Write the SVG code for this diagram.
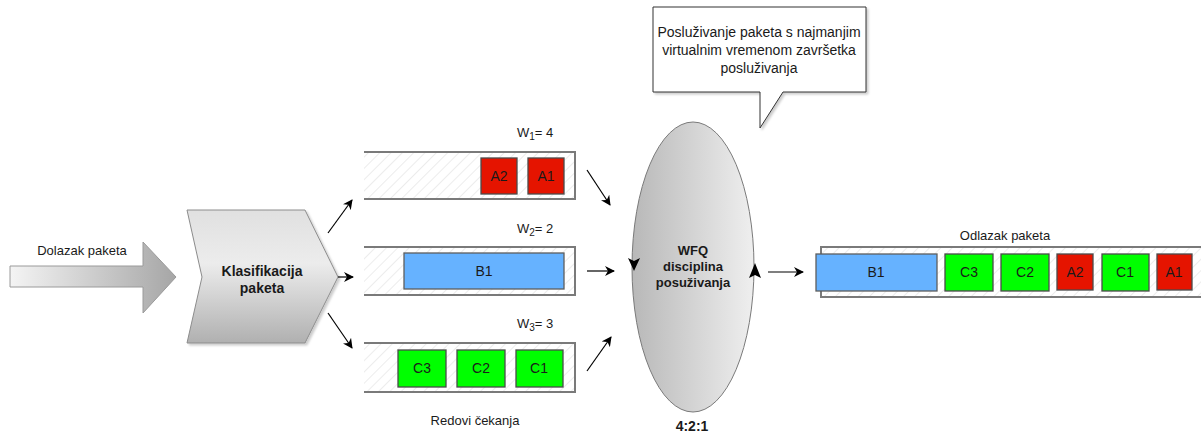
<svg xmlns="http://www.w3.org/2000/svg" width="1201" height="434" viewBox="0 0 1201 434">
<defs>
<linearGradient id="gArrow" x1="0" y1="0" x2="1" y2="0">
<stop offset="0" stop-color="#f4f4f4"/>
<stop offset="1" stop-color="#a6a6a6"/>
</linearGradient>
<linearGradient id="gClass" x1="0" y1="0" x2="0" y2="1">
<stop offset="0" stop-color="#e0e0e0"/>
<stop offset="0.4" stop-color="#ececec"/>
<stop offset="1" stop-color="#b0b0b0"/>
</linearGradient>
<linearGradient id="gEll" x1="0" y1="0" x2="1" y2="0">
<stop offset="0" stop-color="#b8b8b8"/>
<stop offset="1" stop-color="#efefef"/>
</linearGradient>
<pattern id="hatch" width="8" height="8" patternUnits="userSpaceOnUse" patternTransform="rotate(45)">
<rect width="8" height="8" fill="#ffffff"/>
<line x1="0" y1="0" x2="0" y2="8" stroke="#ececec" stroke-width="2"/>
</pattern>
<marker id="arr" viewBox="0 0 10 10" refX="9" refY="5" markerWidth="10" markerHeight="10" markerUnits="userSpaceOnUse" orient="auto">
<path d="M0,0 L10,5 L0,10 L3,5 z" fill="#000"/>
</marker>
<filter id="sh" x="-10%" y="-10%" width="130%" height="140%">
<feDropShadow dx="2" dy="2" stdDeviation="1" flood-color="#000" flood-opacity="0.2"/>
</filter>
</defs>
<style>
text{font-family:"Liberation Sans",Arial,sans-serif;fill:#1a1a1a;}
.lbl{font-size:13px;}
.box{font-size:14px;text-anchor:middle;}
.wfq{font-size:13px;text-anchor:middle;font-weight:bold;}
.bold{font-weight:bold;}
.q{fill:url(#hatch);stroke:none;}
.qb{fill:none;stroke:#7a7a7a;stroke-width:2;}
.red{fill:#e51400;stroke:#4a4a4a;stroke-width:1.3;}
.green{fill:#00ff00;stroke:#4a4a4a;stroke-width:1.3;}
.blue{fill:#66b2ff;stroke:#5e5e5e;stroke-width:1.3;}
.con{fill:none;stroke:#000;stroke-width:1.2;marker-end:url(#arr);}
</style>

<g id="dolazak">
<path d="M10,266 L143,266 L143,242 L176,277 L143,313 L143,287 L10,287 Z" fill="url(#gArrow)" stroke="#9a9a9a" stroke-width="1"/>
<text class="lbl" x="82" y="255" text-anchor="middle">Dolazak paketa</text>
</g>

<g id="klasifikacija">
<path d="M187,210 L305,210 L338,277 L305,343 L187,343 L202,277 Z" fill="url(#gClass)" stroke="#8c8c8c" stroke-width="1" filter="url(#sh)"/>
<text class="box bold" x="262" y="276" font-size="15">Klasifikacija</text>
<text class="box bold" x="262" y="293" font-size="15">paketa</text>
</g>

<g id="red1">
<rect class="q" x="364" y="152" width="211" height="47"/>
<path class="qb" d="M364,152 L575,152 L575,199 L364,199"/>
<rect class="red" x="481" y="158" width="36" height="36"/>
<text class="box" x="499" y="181">A2</text>
<rect class="red" x="528" y="158" width="36" height="36"/>
<text class="box" x="546" y="181">A1</text>
<text class="lbl" x="517" y="137">W<tspan font-size="10" dy="3">1</tspan><tspan dy="-3">= 4</tspan></text>
</g>

<g id="red2">
<rect class="q" x="364" y="247" width="211" height="48"/>
<path class="qb" d="M364,247 L575,247 L575,295 L364,295"/>
<rect class="blue" x="404" y="253" width="160" height="36"/>
<text class="box" x="484" y="276">B1</text>
<text class="lbl" x="517" y="233">W<tspan font-size="10" dy="3">2</tspan><tspan dy="-3">= 2</tspan></text>
</g>

<g id="red3">
<rect class="q" x="364" y="343" width="211" height="49"/>
<path class="qb" d="M364,343 L575,343 L575,392 L364,392"/>
<rect class="green" x="398" y="350" width="48" height="37"/>
<text class="box" x="422" y="373">C3</text>
<rect class="green" x="457" y="350" width="48" height="37"/>
<text class="box" x="481" y="373">C2</text>
<rect class="green" x="516" y="350" width="47" height="37"/>
<text class="box" x="539" y="373">C1</text>
<text class="lbl" x="517" y="328">W<tspan font-size="10" dy="3">3</tspan><tspan dy="-3">= 3</tspan></text>
</g>

<g id="redovi-label">
<text class="lbl" x="475" y="425" text-anchor="middle" font-size="13.5">Redovi čekanja</text>
</g>

<g id="wfq">
<ellipse cx="693" cy="267" rx="61" ry="145" fill="url(#gEll)" stroke="#7a7a7a" stroke-width="1"/>
<path d="M628,258 L634,271 L640,258 L634,261 Z" fill="#000"/>
<path d="M749,278 L755,263 L761,278 L755,275 Z" fill="#000"/>
<text class="wfq" x="693" y="255">WFQ</text>
<text class="wfq" x="693" y="271">disciplina</text>
<text class="wfq" x="693" y="287">posuživanja</text>
<text class="box bold" x="692" y="431">4:2:1</text>
</g>

<g id="oblacic">
<path d="M653,7 L866,7 L866,92 L783,92 L760,128 L760,92 L653,92 Z" fill="#ffffff" stroke="#333333" stroke-width="1" filter="url(#sh)"/>
<text class="box" x="759" y="37">Posluživanje paketa s najmanjim</text>
<text class="box" x="759" y="55">virtualnim vremenom završetka</text>
<text class="box" x="759" y="73">posluživanja</text>
</g>

<g id="odlazak">
<rect class="q" x="821" y="247" width="380" height="50"/>
<path class="qb" d="M1201,247 L821,247 L821,297 L1201,297"/>
<rect class="blue" x="816" y="254" width="121" height="37"/>
<text class="box" x="876" y="277">B1</text>
<rect class="green" x="945" y="254" width="48" height="37"/>
<text class="box" x="969" y="277">C3</text>
<rect class="green" x="1001" y="254" width="48" height="37"/>
<text class="box" x="1025" y="277">C2</text>
<rect class="red" x="1057" y="254" width="36" height="36"/>
<text class="box" x="1075" y="277">A2</text>
<rect class="green" x="1102" y="254" width="47" height="37"/>
<text class="box" x="1125" y="277">C1</text>
<rect class="red" x="1157" y="254" width="35" height="36"/>
<text class="box" x="1174" y="277">A1</text>
<text class="lbl" x="1005" y="240" text-anchor="middle">Odlazak paketa</text>
</g>

<g id="connectors">
<path class="con" d="M328,233 L352,200"/>
<path class="con" d="M338,277 L353,277"/>
<path class="con" d="M328,313 L352,348"/>
<path class="con" d="M587,170 L610,205"/>
<path class="con" d="M587,271 L614,271"/>
<path class="con" d="M587,371 L611,337"/>
<path class="con" d="M768,272 L803,272"/>
</g>
</svg>
